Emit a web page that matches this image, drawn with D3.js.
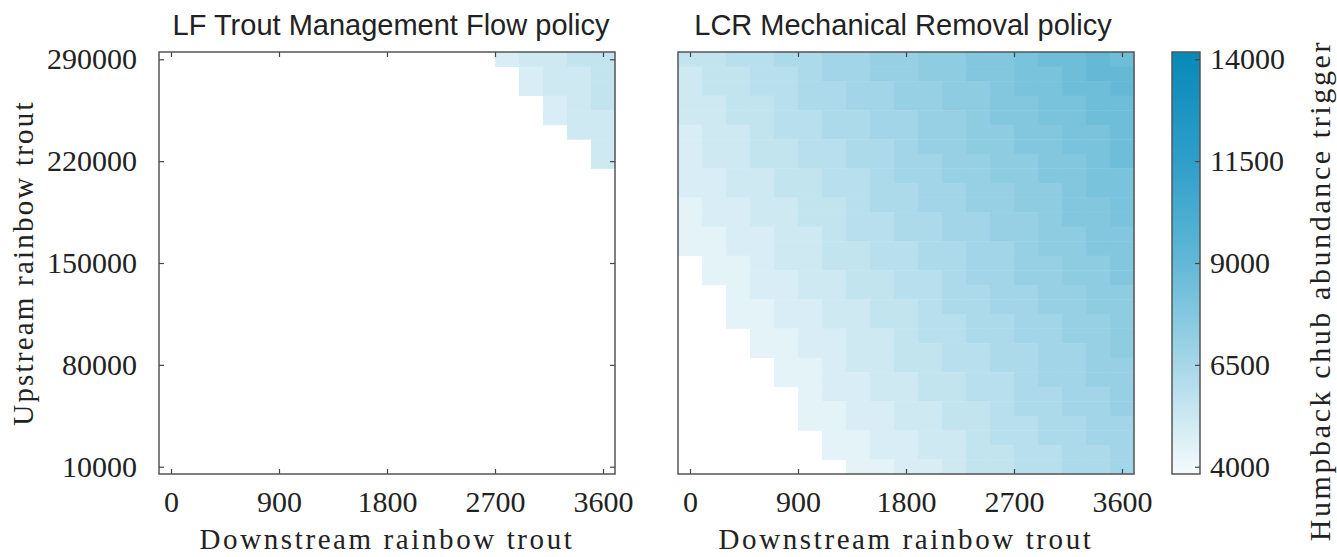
<!DOCTYPE html>
<html>
<head>
<meta charset="utf-8">
<script src="https://cdn.jsdelivr.net/npm/d3@7/dist/d3.min.js"></script>
<style>
  body { margin: 0; background: #fff; }
  .tick line { stroke: #444; stroke-width: 1.2; }
  .tick text { font-family: "Liberation Serif", serif; font-size: 30px; fill: #222; }
</style>
</head>
<body>
<div id="chart"></div>
<script>
const n = null

// grid of the two heatmaps
const downstream = [0, 200, 400, 600, 800, 1000, 1200, 1400, 1600, 1800, 2000, 2200, 2400, 2600, 2800, 3000, 3200, 3400, 3600]
const upstream = [290000, 280000, 270000, 260000, 250000, 240000, 230000, 220000, 210000, 200000,
    190000, 180000, 170000, 160000, 150000, 140000, 130000, 120000, 110000, 100000,
    90000, 80000, 70000, 60000, 50000, 40000, 30000, 20000, 10000]

const xTicks = [0, 900, 1800, 2700, 3600]
const yTicks = [10000, 80000, 150000, 220000, 290000]
const cTicks = [4000, 6500, 9000, 11500, 14000]

// colorbar stops
const cStops = [4000, 6500, 9000, 11500, 14000]
const cColors = ["#f0f8fb", "#a6d7e8", "#62b8d6", "#2e9fca", "#0a8ab9"]

// LF Trout Management Flow: only the top rows have a trigger, the rest stay empty
const lfTrigger = [
    [n,n,n,n,n,n,n,n,n,n,n,n,n,n,4800,5150,5150,5550,5550],
    [n,n,n,n,n,n,n,n,n,n,n,n,n,n,n,4800,5150,5150,5550],
    [n,n,n,n,n,n,n,n,n,n,n,n,n,n,n,4800,5150,5150,5550],
    [n,n,n,n,n,n,n,n,n,n,n,n,n,n,n,n,4800,5150,5550],
    [n,n,n,n,n,n,n,n,n,n,n,n,n,n,n,n,4800,5150,5150],
    [n,n,n,n,n,n,n,n,n,n,n,n,n,n,n,n,n,5150,5150],
    [n,n,n,n,n,n,n,n,n,n,n,n,n,n,n,n,n,n,5150],
    [n,n,n,n,n,n,n,n,n,n,n,n,n,n,n,n,n,n,5150]
]

// LCR Mechanical Removal (rows top -> bottom, same order as upstream)
const lcrTrigger = [
    [5550,5550,5900,5900,6300,6300,6650,6650,7050,7050,7400,7400,7800,7800,8150,8550,8550,8900,8550],
    [5150,5550,5550,5900,5900,6300,6650,6650,7050,7050,7400,7400,7800,7800,8150,8150,8550,8900,8900],
    [5150,5550,5550,5900,5900,6300,6300,6650,6650,7050,7050,7400,7400,7800,8150,8150,8550,8550,8900],
    [5150,5150,5550,5550,5900,6300,6300,6650,6650,7050,7050,7400,7400,7800,7800,8150,8150,8550,8550],
    [5150,5150,5550,5550,5900,5900,6300,6300,6650,6650,7050,7050,7400,7800,7800,8150,8150,8550,8550],
    [4800,5150,5150,5550,5900,5900,6300,6300,6650,6650,7050,7050,7400,7400,7800,7800,8150,8150,8550],
    [4800,5150,5150,5550,5550,5900,5900,6300,6300,6650,7050,7050,7400,7400,7800,7800,8150,8150,8550],
    [4800,5150,5150,5550,5550,5900,5900,6300,6300,6650,6650,7050,7050,7400,7400,7800,7800,8150,8550],
    [4800,4800,5150,5150,5550,5550,5900,5900,6300,6650,6650,7050,7050,7400,7400,7800,7800,8150,8150],
    [4800,4800,5150,5150,5550,5550,5900,5900,6300,6300,6650,6650,7050,7050,7400,7400,7800,8150,8150],
    [4400,4800,4800,5150,5150,5550,5550,5900,6300,6300,6650,6650,7050,7050,7400,7400,7800,7800,8150],
    [4400,4800,4800,5150,5150,5550,5550,5900,5900,6300,6300,6650,6650,7050,7050,7400,7800,7800,8150],
    [4400,4400,4800,4800,5150,5150,5550,5900,5900,6300,6300,6650,6650,7050,7050,7400,7400,7800,7800],
    [4400,4400,4800,4800,5150,5150,5550,5550,5900,5900,6300,6300,6650,6650,7050,7400,7400,7800,7800],
    [n,4400,4400,4800,5150,5150,5550,5550,5900,5900,6300,6300,6650,6650,7050,7050,7400,7400,7800],
    [n,4400,4400,4800,4800,5150,5150,5550,5550,5900,5900,6300,6650,6650,7050,7050,7400,7400,7800],
    [n,n,4400,4800,4800,5150,5150,5550,5550,5900,5900,6300,6300,6650,6650,7050,7050,7400,7400],
    [n,n,4400,4400,4800,4800,5150,5150,5550,5550,5900,6300,6300,6650,6650,7050,7050,7400,7400],
    [n,n,4400,4400,4800,4800,5150,5150,5550,5550,5900,5900,6300,6300,6650,6650,7050,7050,7400],
    [n,n,n,4400,4400,4800,4800,5150,5150,5550,5900,5900,6300,6300,6650,6650,7050,7050,7400],
    [n,n,n,4400,4400,4800,4800,5150,5150,5550,5550,5900,5900,6300,6300,6650,6650,7050,7400],
    [n,n,n,n,4400,4400,4800,5150,5150,5550,5550,5900,5900,6300,6300,6650,6650,7050,7050],
    [n,n,n,n,4400,4400,4800,4800,5150,5150,5550,5550,5900,5900,6300,6650,6650,7050,7050],
    [n,n,n,n,n,4400,4800,4800,5150,5150,5550,5550,5900,5900,6300,6300,6650,6650,7050],
    [n,n,n,n,n,4400,4400,4800,4800,5150,5150,5550,5550,5900,6300,6300,6650,6650,7050],
    [n,n,n,n,n,4400,4400,4800,4800,5150,5150,5550,5550,5900,5900,6300,6300,6650,6650],
    [n,n,n,n,n,n,4400,4400,4800,4800,5150,5150,5550,5900,5900,6300,6300,6650,6650],
    [n,n,n,n,n,n,4400,4400,4800,4800,5150,5150,5550,5550,5900,5900,6300,6300,6650],
    [n,n,n,n,n,n,n,4400,4400,4800,4800,5150,5550,5550,5900,5900,6300,6300,6650]
]

const width = 1337, height = 557
const panelW = 456, panelH = 422, panelTop = 52

const svg = d3.select("#chart").append("svg")
    .attr("width", width)
    .attr("height", height)

const color = d3.scaleLinear()
    .domain(cStops)
    .range(cColors)

// band scales for the cells, linear ones for the ticks (ticks sit on cell centres)
const xBand = d3.scaleBand().domain(downstream).range([0, panelW])
const yBand = d3.scaleBand().domain(upstream).range([0, panelH])
const half = yBand.bandwidth() / 2
const xLin = d3.scaleLinear().domain([-100, 3700]).range([0, panelW])
const yLin = d3.scaleLinear().domain([10000, 290000]).range([panelH - half, half])
const fmt = d3.format("d")

const panels = [
    {title: "LF Trout Management Flow policy", left: 159, data: lfTrigger, yLabels: true, titleX: 391},
    {title: "LCR Mechanical Removal policy", left: 678, data: lcrTrigger, yLabels: false, titleX: 903}
]

panels.forEach(p => {
    const g = svg.append("g").attr("transform", `translate(${p.left},${panelTop})`)

    const cells = []
    p.data.forEach((row, r) => {
        row.forEach((v, c) => {
            if (v != null) cells.push({up: upstream[r], down: downstream[c], v: v})
        })
    })

    g.selectAll(".cell")
        .data(cells)
        .join("rect")
        .attr("class", "cell")
        .attr("x", d => xBand(d.down))
        .attr("y", d => yBand(d.up))
        .attr("width", xBand.bandwidth() + 0.4)
        .attr("height", yBand.bandwidth() + 0.4)
        .attr("fill", d => color(d.v))

    // inward ticks on all sides like the original figure
    g.append("g").attr("transform", `translate(0,${panelH})`)
        .call(d3.axisBottom(xLin).tickValues(xTicks).tickSize(-5).tickSizeOuter(0).tickPadding(17).tickFormat(fmt))
        .call(a => a.select(".domain").remove())

    g.append("g")
        .call(d3.axisTop(xLin).tickValues(xTicks).tickSize(-5).tickSizeOuter(0).tickFormat(""))
        .call(a => a.select(".domain").remove())

    if (p.yLabels) {
        g.append("g")
            .call(d3.axisLeft(yLin).tickValues(yTicks).tickSize(-5).tickSizeOuter(0).tickPadding(22).tickFormat(fmt))
            .call(a => a.select(".domain").remove())
        g.append("g").attr("transform", `translate(${panelW},0)`)
            .call(d3.axisRight(yLin).tickValues(yTicks).tickSize(-5).tickSizeOuter(0).tickFormat(""))
            .call(a => a.select(".domain").remove())
    }

    g.append("rect")
        .attr("width", panelW)
        .attr("height", panelH)
        .attr("fill", "none")
        .attr("stroke", "#555")
        .attr("stroke-width", 1.5)

    g.append("text")
        .attr("x", panelW / 2)
        .attr("y", panelH + 75)
        .attr("text-anchor", "middle")
        .style("font-family", "Liberation Serif, serif")
        .style("font-size", "29px")
        .style("letter-spacing", "2.6px")
        .style("fill", "#222")
        .text("Downstream rainbow trout")

    svg.append("text")
        .attr("x", p.titleX)
        .attr("y", 35)
        .attr("text-anchor", "middle")
        .style("font-family", "Liberation Sans, Arial, sans-serif")
        .style("font-size", "29px")
        .style("fill", "#222")
        .text(p.title)
})

svg.append("text")
    .attr("transform", `translate(33,${panelTop + panelH / 2}) rotate(-90)`)
    .attr("text-anchor", "middle")
    .style("font-family", "Liberation Serif, serif")
    .style("font-size", "29px")
    .style("letter-spacing", "2.2px")
    .style("fill", "#222")
    .text("Upstream rainbow trout")

// colorbar
const cbLeft = 1172, cbW = 28
const cbY = d3.scaleLinear().domain([4000, 14000]).range([panelH - half, half])

const defs = svg.append("defs")
const grad = defs.append("linearGradient")
    .attr("id", "cbGrad")
    .attr("x1", 0).attr("x2", 0).attr("y1", 1).attr("y2", 0)
d3.range(0, 1.0001, 0.05).forEach(t => {
    grad.append("stop")
        .attr("offset", t)
        .attr("stop-color", color(cbY.invert(panelH * (1 - t))))
})

const cb = svg.append("g").attr("transform", `translate(${cbLeft},${panelTop})`)
cb.append("rect")
    .attr("width", cbW)
    .attr("height", panelH)
    .attr("fill", "url(#cbGrad)")
    .attr("stroke", "#555")
    .attr("stroke-width", 1.5)

cb.append("g").attr("transform", `translate(${cbW},0)`)
    .call(d3.axisRight(cbY).tickValues(cTicks).tickSize(-5).tickSizeOuter(0).tickPadding(10).tickFormat(fmt))
    .call(a => a.select(".domain").remove())

svg.append("text")
    .attr("transform", "translate(1330,40) rotate(-90)")
    .attr("text-anchor", "end")
    .style("font-family", "Liberation Serif, serif")
    .style("font-size", "30px")
    .style("letter-spacing", "2.6px")
    .style("fill", "#222")
    .text("Humpback chub abundance trigger")
</script>
</body>
</html>
